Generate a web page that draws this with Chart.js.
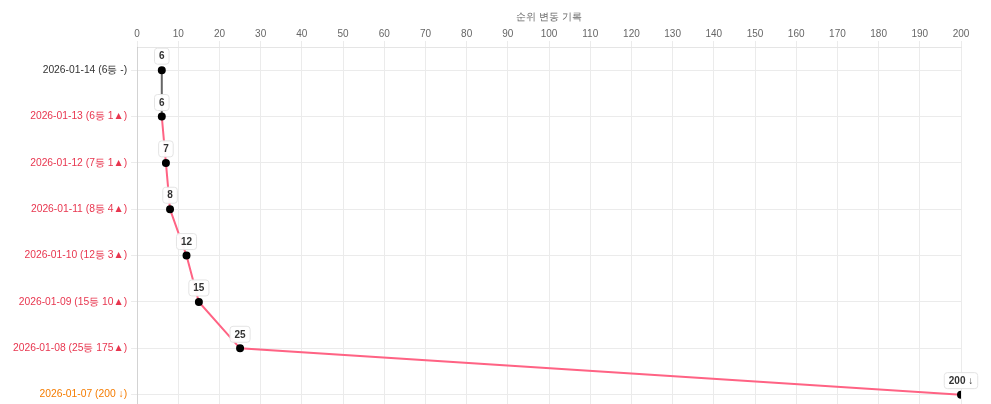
<!DOCTYPE html>
<html>
<head>
<meta charset="utf-8">
<script src="https://cdn.jsdelivr.net/npm/chart.js@4"></script>
<style>
  body { margin: 0; background: #fff; overflow: hidden; }
  #wrap { width: 991px; height: 428px; }
</style>
</head>
<body>
<div id="wrap"><canvas id="rankChart"></canvas></div>
<script>
// 날짜별 순위 데이터
const dayLabels = [
  '2026-01-14 (6등 -)',
  '2026-01-13 (6등 1▲)',
  '2026-01-12 (7등 1▲)',
  '2026-01-11 (8등 4▲)',
  '2026-01-10 (12등 3▲)',
  '2026-01-09 (15등 10▲)',
  '2026-01-08 (25등 175▲)',
  '2026-01-07 (200 ↓)'
];
const ranks = [6, 6, 7, 8, 12, 15, 25, 200];
const trend = ['same', 'up', 'up', 'up', 'up', 'up', 'up', 'down'];
const pointTexts = ['6', '6', '7', '8', '12', '15', '25', '200 ↓'];

const trendColors = { same: '#333333', up: '#e8364f', down: '#f57c00' };

// 점 위에 값 상자 그리기
const boxLabels = {
  id: 'boxLabels',
  afterDatasetsDraw(chart) {
    const ctx = chart.ctx;
    const meta = chart.getDatasetMeta(0);
    ctx.save();
    ctx.font = 'bold 10px "Liberation Sans", Arial, sans-serif';
    ctx.textAlign = 'center';
    ctx.textBaseline = 'middle';
    meta.data.forEach((pt, i) => {
      const text = pointTexts[i];
      const w = ctx.measureText(text).width + 9;
      const h = 16;
      const cx = pt.x;
      const cy = pt.y - 14;
      ctx.beginPath();
      ctx.roundRect(cx - w / 2, cy - h / 2, w, h, 3);
      ctx.fillStyle = 'rgba(255,255,255,0.95)';
      ctx.fill();
      ctx.strokeStyle = '#e4e4e4';
      ctx.lineWidth = 1;
      ctx.stroke();
      ctx.fillStyle = '#333';
      ctx.fillText(text, cx, cy + 0.5);
    });
    ctx.restore();
  }
};

new Chart(document.getElementById('rankChart'), {
  type: 'line',
  data: {
    labels: dayLabels,
    datasets: [{
      data: ranks,
      borderWidth: 2,
      borderColor: '#ff6384',
      pointBackgroundColor: '#000',
      pointBorderColor: '#000',
      pointRadius: 3,
      segment: {
        borderColor: c => c.p0.parsed.x === c.p1.parsed.x ? '#666' : '#ff6384'
      }
    }]
  },
  options: {
    indexAxis: 'y',
    responsive: true,
    maintainAspectRatio: false,
    animation: false,
    layout: { padding: { left: 9, right: 30, top: 7, bottom: 0 } },
    plugins: {
      legend: { display: false },
      tooltip: { enabled: false }
    },
    scales: {
      x: {
        position: 'top',
        min: 0,
        max: 200,
        ticks: { stepSize: 10, color: '#666', font: { size: 10 }, padding: 1 },
        grid: { color: '#ebebeb', tickLength: 6 },
        title: { display: true, text: '순위 변동 기록', color: '#666', font: { size: 10 } }
      },
      y: {
        offset: true,
        ticks: {
          font: { size: 10.3 },
          padding: 4,
          color: c => trendColors[trend[c.index]]
        },
        grid: { color: '#ebebeb', tickLength: 6 }
      }
    }
  },
  plugins: [boxLabels]
});
</script>
</body>
</html>
